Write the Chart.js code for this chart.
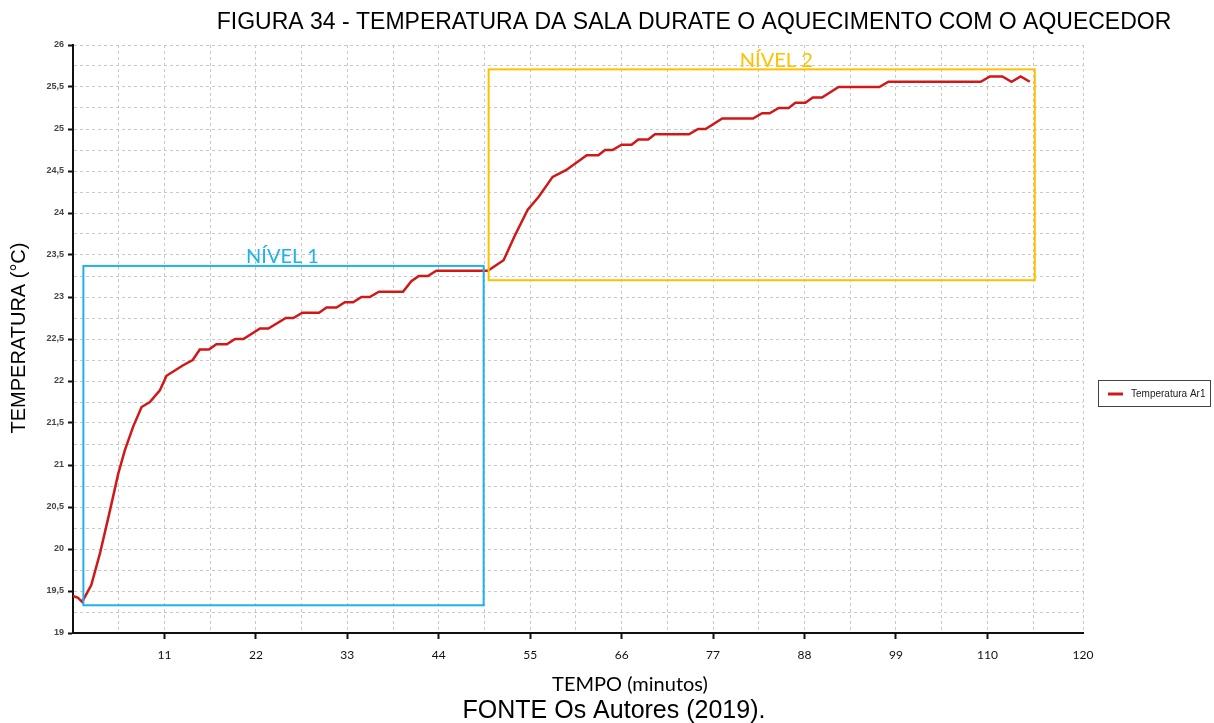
<!DOCTYPE html>
<html>
<head>
<meta charset="utf-8">
<script src="https://cdn.jsdelivr.net/npm/chart.js@4/dist/chart.umd.min.js"></script>
<style>
  html, body { margin: 0; padding: 0; background: #fff; }
  #wrap { width: 1214px; height: 723px; position: relative; }
</style>
</head>
<body>
<div id="wrap"><canvas id="grafico"></canvas></div>
<script>
// tempo (minutos) e temperatura (°C)
const tempo = [0, 0.6, 1.1, 2.2, 3.25, 4.45, 5.45, 6.25, 7.25, 8.25, 9.25, 10.45,
  11.25, 12.25, 13.25, 14.4, 15.25, 16.35, 17.25, 18.5, 19.5, 20.5, 22.5, 23.5,
  25.6, 26.5, 27.6, 29.6, 30.5, 31.7, 32.7, 33.7, 34.7, 35.7, 36.8, 39.7, 40.7,
  41.6, 42.7, 43.7, 49.9, 51.8, 53.1, 54.7, 56.0, 57.7, 59.3, 61.8, 63.2, 64.0,
  64.9, 66.0, 67.2, 68.0, 69.2, 70.0, 74.1, 75.2, 76.1, 78.1, 81.8, 82.9, 83.8,
  84.9, 86.1, 86.9, 88.1, 89.0, 90.1, 92.1, 97.0, 98.1, 109.2, 110.3, 111.8,
  112.9, 114.0, 115.1];
const temperatura = [19.44, 19.42, 19.37, 19.57, 19.95, 20.46, 20.9, 21.18, 21.46, 21.69, 21.75, 21.89,
  22.0625, 22.125, 22.1875, 22.25, 22.375, 22.375, 22.4375, 22.4375, 22.5, 22.5, 22.625, 22.625,
  22.75, 22.75, 22.8125, 22.8125, 22.875, 22.875, 22.9375, 22.9375, 23.0, 23.0, 23.0625, 23.0625, 23.1875,
  23.25, 23.25, 23.3125, 23.3125, 23.4375, 23.72, 24.04, 24.19, 24.43, 24.51, 24.6875, 24.6875, 24.75,
  24.75, 24.8125, 24.8125, 24.875, 24.875, 24.9375, 24.9375, 25.0, 25.0, 25.125, 25.125, 25.1875, 25.1875,
  25.25, 25.25, 25.3125, 25.3125, 25.375, 25.375, 25.5, 25.5, 25.5625, 25.5625, 25.625, 25.625,
  25.5625, 25.625, 25.5625];

// regiões destacadas (minutos / °C)
const niveis = ['NÍVEL 1', 'NÍVEL 2'];
const nivelInicio = [1.25, 50.0];
const nivelFim = [49.4, 115.7];
const nivelMin = [19.33, 23.2];
const nivelMax = [23.37, 25.71];
const nivelRotulo = [25.2, 84.6];
const nivelCor = ['#1fb1ea', '#ffc000'];

const xFim = 121.5; // borda direita do eixo, rotulada "120"

const pontos = tempo.map((t, i) => ({ x: t, y: temperatura[i] }));

// desenha caixas, títulos e legenda
const extras = {
  id: 'extras',
  afterDatasetsDraw(chart) {
    const ctx = chart.ctx;
    const xs = chart.scales.x, ys = chart.scales.y;
    ctx.save();
    niveis.forEach((nome, i) => {
      const x1 = xs.getPixelForValue(nivelInicio[i]);
      const x2 = xs.getPixelForValue(nivelFim[i]);
      const y1 = ys.getPixelForValue(nivelMax[i]);
      const y2 = ys.getPixelForValue(nivelMin[i]);
      ctx.strokeStyle = nivelCor[i];
      ctx.lineWidth = 2;
      ctx.strokeRect(x1, y1, x2 - x1, y2 - y1);
      ctx.fillStyle = nivelCor[i];
      ctx.font = '20px Lato';
      ctx.textAlign = 'center';
      ctx.textBaseline = 'bottom';
      ctx.fillText(nome, xs.getPixelForValue(nivelRotulo[i]), y1 + 1);
    });
    ctx.restore();
  },
  afterDraw(chart) {
    const ctx = chart.ctx;
    ctx.save();
    ctx.fillStyle = '#000';
    ctx.textAlign = 'center';
    ctx.textBaseline = 'middle';
    ctx.font = '23px "Liberation Sans", Arial';
    ctx.fillText('FIGURA 34 - TEMPERATURA DA SALA DURATE O AQUECIMENTO COM O AQUECEDOR', 694, 23);
    ctx.font = '20px Lato';
    ctx.fillText('TEMPO (minutos)', 630, 685);
    ctx.font = '25px "Liberation Sans", Arial';
    ctx.fillText('FONTE Os Autores (2019).', 614, 711);
    ctx.save();
    ctx.translate(19, 338);
    ctx.rotate(-Math.PI / 2);
    ctx.font = '20px "Liberation Sans", Arial';
    ctx.fillText('TEMPERATURA (°C)', 0, 0);
    ctx.restore();

    // legenda
    ctx.strokeStyle = '#444';
    ctx.lineWidth = 1;
    ctx.strokeRect(1098.5, 380.5, 112, 26);
    ctx.strokeStyle = '#d01818';
    ctx.lineWidth = 3;
    ctx.beginPath();
    ctx.moveTo(1108, 394);
    ctx.lineTo(1123, 394);
    ctx.stroke();
    ctx.fillStyle = '#222';
    ctx.textAlign = 'left';
    ctx.font = '10px "Liberation Sans", Arial';
    ctx.fillText('Temperatura Ar1', 1131, 394);
    ctx.restore();
  }
};

new Chart(document.getElementById('grafico'), {
  type: 'line',
  data: {
    datasets: [{
      label: 'Temperatura Ar1',
      data: pontos,
      borderColor: '#d01818',
      borderWidth: 2.5,
      pointRadius: 0,
      tension: 0,
      fill: false
    }]
  },
  options: {
    responsive: true,
    maintainAspectRatio: false,
    animation: false,
    layout: { padding: { top: 45, right: 131, left: 0, bottom: 0 } },
    plugins: {
      legend: { display: false },
      tooltip: { enabled: false }
    },
    scales: {
      x: {
        type: 'linear',
        min: 0,
        max: xFim,
        afterBuildTicks(scale) {
          const t = [];
          for (let v = 0; v <= 115.5 + 1e-6; v += 5.5) t.push({ value: +v.toFixed(1) });
          t.push({ value: xFim });
          scale.ticks = t;
        },
        afterFit(scale) { scale.height = 90; },
        ticks: {
          autoSkip: false,
          maxRotation: 0,
          padding: 9,
          color: '#111',
          font: { family: 'Lato', size: 12 },
          callback(v) {
            if (v === xFim) return '120';
            if (v > 0 && Math.abs(v % 11) < 1e-6) return String(v);
            return '';
          }
        },
        grid: {
          color: '#c8c8c8',
          lineWidth: 1,
          tickLength: 6,
          tickWidth: 2,
          tickColor(ctx) {
            const v = ctx.tick ? ctx.tick.value : 0;
            return (v > 0 && v <= 110 && Math.abs(v % 11) < 1e-6) ? '#111' : 'rgba(0,0,0,0)';
          }
        },
        border: { display: true, color: '#111', width: 2, dash: [3, 3] }
      },
      y: {
        min: 19,
        max: 26,
        afterFit(scale) { scale.width = 73; },
        ticks: {
          stepSize: 0.25,
          autoSkip: false,
          padding: 4,
          color: '#444',
          font: { family: '"Liberation Sans", Arial', size: 9, weight: 'bold' },
          callback(v) {
            if (Math.abs(v * 2 - Math.round(v * 2)) > 1e-6) return '';
            return String(v).replace('.', ',');
          }
        },
        grid: {
          color: '#c8c8c8',
          lineWidth: 1,
          tickLength: 5,
          tickWidth: 2,
          tickColor(ctx) {
            const v = ctx.tick ? ctx.tick.value : 0;
            return Math.abs(v * 2 - Math.round(v * 2)) < 1e-6 ? '#111' : 'rgba(0,0,0,0)';
          }
        },
        border: { display: true, color: '#111', width: 2, dash: [3, 3] }
      }
    }
  },
  plugins: [extras]
});
</script>
</body>
</html>
